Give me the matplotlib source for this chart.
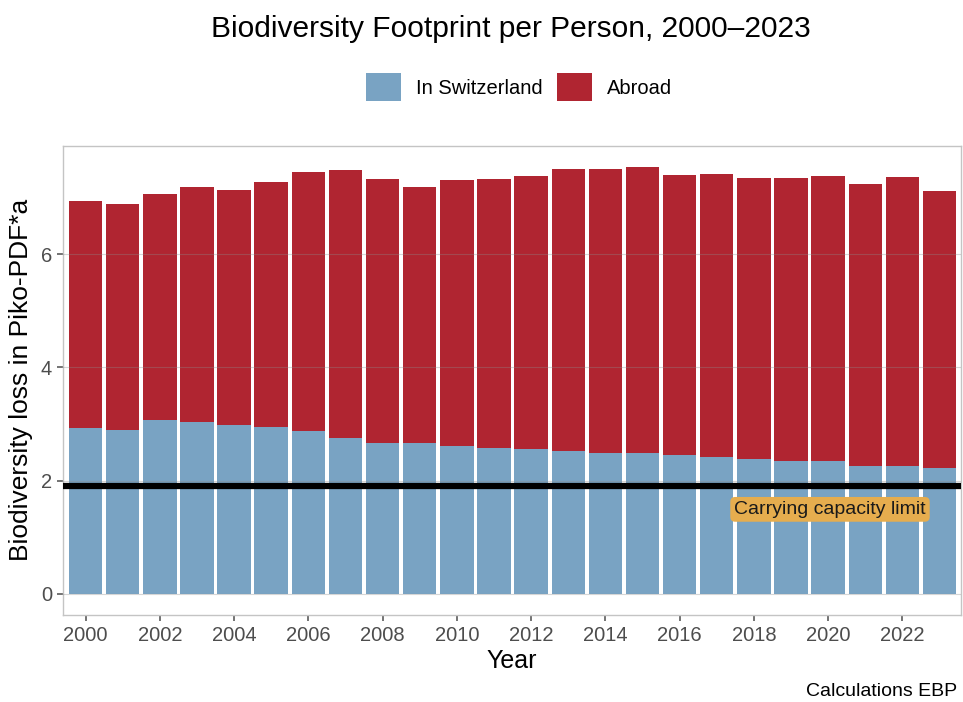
import matplotlib
matplotlib.use("Agg")
import matplotlib.pyplot as plt
import numpy as np

years = list(range(2000, 2024))
in_switzerland = [2.92, 2.89, 3.07, 3.04, 2.98, 2.94, 2.87, 2.75, 2.67, 2.67, 2.61, 2.58,
                  2.55, 2.53, 2.48, 2.48, 2.45, 2.41, 2.38, 2.35, 2.35, 2.25, 2.25, 2.22]
total = [6.94, 6.88, 7.07, 7.19, 7.14, 7.28, 7.46, 7.49, 7.33, 7.19, 7.32, 7.33,
         7.38, 7.51, 7.50, 7.54, 7.41, 7.42, 7.35, 7.35, 7.39, 7.25, 7.36, 7.12]
abroad = [t - s for t, s in zip(total, in_switzerland)]
capacity_limit = 1.9
xticks = list(range(2000, 2023, 2))
yticks = [0, 2, 4, 6]

plt.rcParams['font.family'] = ['Liberation Sans', 'DejaVu Sans']

BLUE = '#79A3C3'
RED = '#B02531'

fig = plt.figure(figsize=(9.63, 7.02), dpi=100)
ax = fig.add_axes([0.0657, 0.124, 0.9319, 0.6685])

ax.bar(years, in_switzerland, width=0.9, color=BLUE, label='In Switzerland', zorder=2)
ax.bar(years, abroad, width=0.9, bottom=in_switzerland, color=RED, label='Abroad', zorder=2)

for yv in yticks:
    ax.axhline(yv, color='#8c8c8c', lw=0.8, alpha=0.35, zorder=3)

ax.axhline(capacity_limit, color='black', lw=4.5, zorder=4)
ax.text(2020.05, 1.49, 'Carrying capacity limit', ha='center', va='center', fontsize=14,
        color='#1a1a1a', zorder=5,
        bbox=dict(boxstyle='round,pad=0.2,rounding_size=0.25', fc='#E6AD4E', ec='none'))

ax.set_xlim(1999.4, 2023.57)
ax.set_ylim(-0.377, 7.92)
ax.set_xticks(xticks)
ax.set_yticks(yticks)
ax.tick_params(axis='both', labelsize=14.5, colors='#4d4d4d', length=4, width=1.1, pad=4)
ax.tick_params(axis='both', labelcolor='#4d4d4d')
for sp in ax.spines.values():
    sp.set_color('#c4c4c4')
    sp.set_linewidth(1.0)

ax.set_xlabel('Year', fontsize=18, labelpad=3)
ax.set_ylabel('Biodiversity loss in Piko-PDF*a', fontsize=19, labelpad=6)

fig.text(0.531, 0.958, 'Biodiversity Footprint per Person, 2000\u20132023', ha='center', va='center',
         fontsize=21.5)

handles, labels = ax.get_legend_handles_labels()
fig.legend(handles, labels, loc='center', bbox_to_anchor=(0.539, 0.876), ncol=2, frameon=False,
           fontsize=14.5, handlelength=1.75, handleheight=1.75, handletextpad=0.75,
           columnspacing=0.7)

fig.text(0.994, 0.003, 'Calculations EBP', ha='right', va='bottom', fontsize=14)

fig.savefig('out.png', dpi=100)
